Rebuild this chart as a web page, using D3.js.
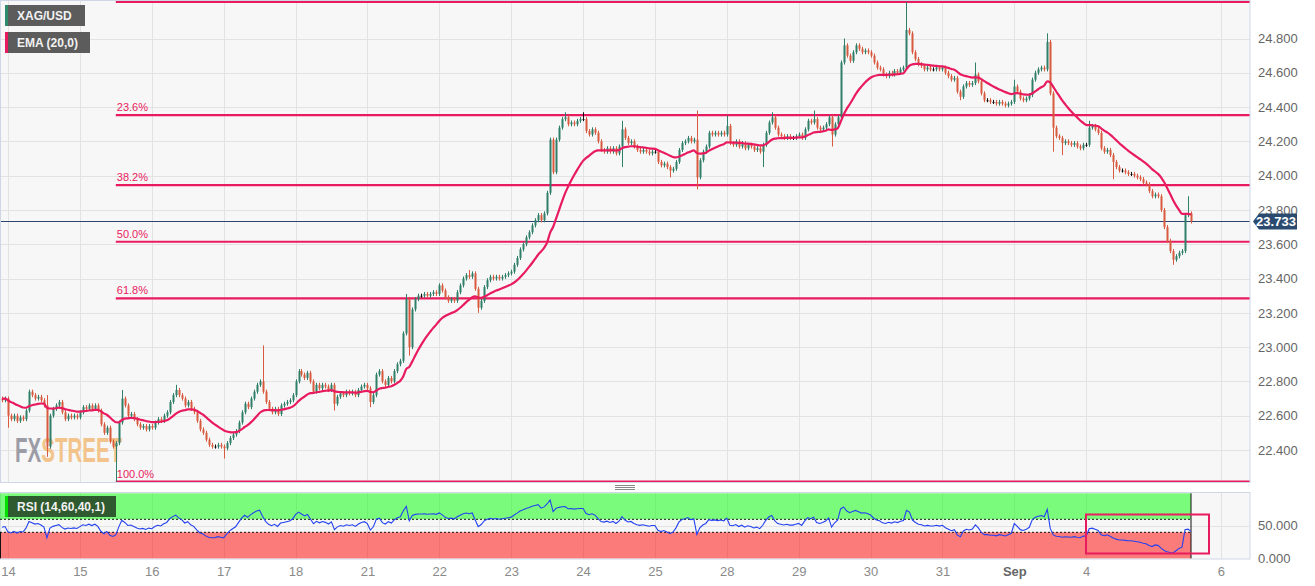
<!DOCTYPE html>
<html><head><meta charset="utf-8">
<script src="https://cdn.jsdelivr.net/npm/d3@7"></script>
<style>body{margin:0;background:#fff}svg{display:block}text{font-family:"Liberation Sans",Arial,sans-serif}</style>
</head><body><svg id="c" width="1315" height="586"></svg>
<script>
// ---- DATA (hourly closes XAG/USD) ----
const openStart = 22.70;
const closes = [
 22.69,22.70,
 // Aug 14
 22.60,22.58,22.60,22.57,22.59,22.58,22.63,22.74,22.72,22.70,22.71,22.69,22.66,22.42,22.60,22.64,22.66,22.68,22.62,22.58,22.60,22.59,22.60,22.59,
 // Aug 15
 22.62,22.65,22.64,22.66,22.64,22.66,22.63,22.55,22.50,22.53,22.45,22.42,22.44,22.56,22.70,22.66,22.60,22.61,22.58,22.55,22.53,22.54,22.52,22.54,
 // Aug 16
 22.53,22.56,22.58,22.57,22.60,22.62,22.68,22.72,22.75,22.72,22.70,22.66,22.68,22.64,22.62,22.57,22.52,22.50,22.46,22.43,22.42,22.42,22.43,22.42,
 // Aug 17
 22.41,22.44,22.47,22.49,22.51,22.56,22.62,22.67,22.65,22.70,22.74,22.78,22.80,22.74,22.68,22.64,22.62,22.64,22.61,22.66,22.67,22.68,22.69,22.72,
 // Aug 18
 22.80,22.86,22.84,22.82,22.85,22.80,22.74,22.78,22.76,22.78,22.77,22.75,22.78,22.67,22.71,22.73,22.72,22.74,22.73,22.74,22.72,22.75,22.77,22.78,
 // Aug 21
 22.76,22.68,22.72,22.84,22.86,22.80,22.78,22.82,22.80,22.86,22.90,22.92,23.08,23.28,23.00,23.22,23.28,23.30,23.30,23.31,23.30,23.31,23.32,23.31,
 // Aug 22
 23.36,23.33,23.29,23.27,23.28,23.27,23.32,23.36,23.40,23.42,23.41,23.43,23.34,23.23,23.27,23.35,23.39,23.41,23.40,23.41,23.40,23.41,23.42,23.43,
 // Aug 23
 23.44,23.48,23.52,23.57,23.60,23.64,23.67,23.71,23.74,23.77,23.74,23.78,23.90,24.21,24.02,24.21,24.28,24.33,24.34,24.30,24.31,24.30,24.32,24.33,
 // Aug 24
 24.33,24.26,24.24,24.27,24.25,24.20,24.15,24.14,24.16,24.14,24.16,24.13,24.17,24.27,24.22,24.19,24.20,24.17,24.15,24.14,24.15,24.14,24.13,24.14,
 // Aug 25
 24.14,24.08,24.06,24.07,24.05,24.03,24.04,24.08,24.15,24.19,24.20,24.22,24.20,24.21,23.99,24.09,24.14,24.17,24.25,24.24,24.25,24.24,24.25,24.24,
 // Aug 28
 24.29,24.19,24.18,24.20,24.17,24.19,24.16,24.18,24.17,24.15,24.16,24.14,24.18,24.25,24.31,24.34,24.28,24.24,24.23,24.22,24.23,24.22,24.22,24.23,
 // Aug 29
 24.24,24.22,24.27,24.32,24.31,24.33,24.28,24.27,24.28,24.30,24.34,24.24,24.30,24.34,24.66,24.76,24.70,24.67,24.72,24.76,24.74,24.72,24.73,24.72,
 // Aug 30
 24.70,24.66,24.63,24.62,24.59,24.58,24.60,24.59,24.61,24.60,24.62,24.63,24.85,24.83,24.72,24.68,24.65,24.64,24.62,24.63,24.62,24.62,24.63,24.62,
 // Aug 31
 24.63,24.60,24.58,24.56,24.57,24.49,24.46,24.52,24.54,24.53,24.54,24.59,24.55,24.48,24.44,24.44,24.43,24.43,24.42,24.43,24.42,24.41,24.42,24.43,
 // Sep 1
 24.52,24.49,24.45,24.44,24.45,24.47,24.56,24.60,24.62,24.63,24.62,24.78,24.48,24.28,24.23,24.22,24.19,24.20,24.19,24.18,24.19,24.17,24.16,24.18,
 // Sep 4
 24.18,24.28,24.29,24.27,24.25,24.16,24.14,24.15,24.12,24.08,24.05,24.03,24.03,24.02,24.01,24.01,24.00,23.99,23.98,23.96,23.95,
 // Sep 5
 23.91,23.88,23.89,23.88,23.80,23.70,23.62,23.56,23.51,23.53,23.55,23.56,23.77,23.78,23.733
];
// notable wick extremes [candle index, price]
const wickHighs = [[15,22.72],[40,22.75],[58,22.78],[87,23.01],[135,23.31],[156,23.45],[188,24.37],[194,24.37],[207,24.32],[232,24.38],[242,24.35],[257,24.37],[271,24.38],[281,24.80],[302,25.013],[325,24.66],[338,24.56],[349,24.83],[363,24.32],[396,23.88]];
const wickLows = [[2,22.53],[15,22.36],[38,22.216],[74,22.35],[111,22.63],[123,22.65],[136,22.95],[159,23.20],[207,24.05],[223,23.99],[232,23.92],[254,24.05],[277,24.17],[320,24.44],[351,24.14],[354,24.12],[371,23.98],[391,23.48]];
const wickPad = 0.012;
const emaSeed = 22.70;
const rsiSeed = [0.02, 0.021]; // avg gain, avg loss
const lastPrice = 23.733;
const fibHigh = 25.013, fibLow = 22.216, fibStartIndex = 38;
const fibRatios = [0, 0.236, 0.382, 0.5, 0.618, 1];
const fibLabels = ["", "23.6%", "38.2%", "50.0%", "61.8%", "100.0%"];
const yTicks = [22.4, 22.6, 22.8, 23.0, 23.2, 23.4, 23.6, 23.8, 24.0, 24.2, 24.4, 24.6, 24.8];
const rsiTicks = [0, 50];
const rsiUpper = 60, rsiLower = 40;
const xTickLabels = ["14","15","16","17","18","21","22","23","24","25","28","29","30","31","Sep","4","6"];
const xTickIndex = [2,26,50,74,98,122,146,170,194,218,242,266,290,314,338,362,407];

// ---- DERIVED ----
const N = closes.length;
const hiMap = new Map(wickHighs), loMap = new Map(wickLows);
const candles = closes.map((c, i) => {
  const o = i === 0 ? openStart : closes[i - 1];
  const h = hiMap.has(i) ? hiMap.get(i) : Math.max(o, c) + wickPad;
  const l = loMap.has(i) ? loMap.get(i) : Math.min(o, c) - wickPad;
  return {i, o, c, h, l};
});
const k = 2 / 21;
let e = emaSeed;
const ema = closes.map(c => (e = k * c + (1 - k) * e));
let ag = rsiSeed[0], al = rsiSeed[1];
const rsi = closes.map((c, i) => {
  const prev = i === 0 ? openStart : closes[i - 1];
  const d = c - prev;
  ag = (ag * 13 + Math.max(d, 0)) / 14;
  al = (al * 13 + Math.max(-d, 0)) / 14;
  return 100 - 100 / (1 + ag / al);
});

// ---- LAYOUT ----
const PL = 0, PR = 1250, PT = 0, PB = 482;
const RT = 493, RB = 559;
const svg = d3.select("#c");
const x = d3.scaleLinear().domain([0, N - 1]).range([2, 1191]);
const y = d3.scaleLinear().domain([22.4, 24.8]).range([450, 38.5]);
const yR = d3.scaleLinear().domain([0, 100]).range([558.3, 493.3]);
const lastX = x(N - 1);

svg.append("rect").attr("width", 1315).attr("height", 586).attr("fill", "#fff");
const defs = svg.append("defs");
defs.append("clipPath").attr("id", "mainClip").append("rect").attr("x", PL).attr("y", PT).attr("width", PR - PL).attr("height", PB - PT);
defs.append("clipPath").attr("id", "rsiClip").append("rect").attr("x", PL).attr("y", RT).attr("width", PR - PL).attr("height", RB - RT);

// backgrounds
svg.append("rect").attr("x", PL).attr("y", PT).attr("width", PR - PL).attr("height", PB - PT).attr("fill", "#f7f7f7");
svg.append("rect").attr("x", PL).attr("y", RT).attr("width", PR - PL).attr("height", RB - RT).attr("fill", "#f7f7f7");

// grid
const main = svg.append("g").attr("clip-path", "url(#mainClip)");
main.selectAll("line.hg").data(yTicks).join("line")
  .attr("x1", PL).attr("x2", PR).attr("y1", d => Math.round(y(d)) + 0.5).attr("y2", d => Math.round(y(d)) + 0.5)
  .attr("stroke", "#e3e3e3");
main.selectAll("line.vg").data(xTickIndex).join("line")
  .attr("x1", d => Math.round(x(d)) + 0.5).attr("x2", d => Math.round(x(d)) + 0.5).attr("y1", PT).attr("y2", PB)
  .attr("stroke", "#e3e3e3");

// watermark (single text element, horizontally condensed)
const wm = main.append("g").attr("transform", "translate(15,462) scale(0.57,1)")
  .append("text").attr("x", 0).attr("y", 0).attr("font-weight", "bold").attr("font-size", 36);
wm.append("tspan").attr("fill", "#9c9ca6").text("FX");
wm.append("tspan").attr("fill", "#f2c48c").text("STREET");

// fib lines
const fib = fibRatios.map((r, j) => ({p: fibHigh - r * (fibHigh - fibLow), label: fibLabels[j]}));
main.selectAll("line.fib").data(fib).join("line")
  .attr("x1", x(fibStartIndex)).attr("x2", PR).attr("y1", d => y(d.p)).attr("y2", d => y(d.p))
  .attr("stroke", "#e91b5f").attr("stroke-width", 2.2);
main.selectAll("text.fib").data(fib.filter(d => d.label)).join("text")
  .attr("x", x(fibStartIndex) + 1).attr("y", d => y(d.p) - 4)
  .attr("fill", "#e91b5f").attr("font-size", 11).text(d => d.label);

// last price line
main.append("line").attr("x1", PL).attr("x2", PR).attr("y1", Math.round(y(lastPrice)) + 0.5).attr("y2", Math.round(y(lastPrice)) + 0.5)
  .attr("stroke", "#2a4670").attr("stroke-width", 1);

// candles
const up = "#2f7f69", dn = "#d85a3f";
const cg = main.append("g");
cg.selectAll("line.w").data(candles).join("line")
  .attr("x1", d => Math.round(x(d.i)) + 0.5).attr("x2", d => Math.round(x(d.i)) + 0.5)
  .attr("y1", d => y(d.h)).attr("y2", d => y(d.l))
  .attr("stroke", d => Math.abs(d.c - d.o) < 0.004 ? "#111" : (d.c >= d.o ? up : dn)).attr("stroke-width", 1);
cg.selectAll("rect.b").data(candles).join("rect")
  .attr("x", d => Math.round(x(d.i)) - 0.5).attr("width", 2)
  .attr("y", d => y(Math.max(d.o, d.c))).attr("height", d => Math.max(1, Math.abs(y(d.o) - y(d.c))))
  .attr("fill", d => Math.abs(d.c - d.o) < 0.004 ? "#111" : (d.c >= d.o ? up : dn));

// EMA
main.append("path").datum(ema)
  .attr("d", d3.line().x((d, i) => x(i)).y(d => y(d)).curve(d3.curveMonotoneX))
  .attr("fill", "none").attr("stroke", "#e91b5f").attr("stroke-width", 2.2);

// borders
svg.append("rect").attr("x", 0.5).attr("y", 0.5).attr("width", PR - 0.5).attr("height", PB).attr("fill", "none").attr("stroke", "#cfd6e6");
svg.append("rect").attr("x", 0.5).attr("y", RT - 0.5).attr("width", PR - 0.5).attr("height", RB - RT + 0.5).attr("fill", "none").attr("stroke", "#cfd6e6");

// drag handle
[485, 487, 489].forEach(v => svg.append("line").attr("x1", 615).attr("x2", 635).attr("y1", v + 0.5).attr("y2", v + 0.5).attr("stroke", "#888"));

// ---- RSI panel ----
const rp = svg.append("g").attr("clip-path", "url(#rsiClip)");
rp.append("line").attr("x1", PL).attr("x2", PR).attr("y1", Math.round(yR(50)) + 0.5).attr("y2", Math.round(yR(50)) + 0.5).attr("stroke", "#e3e3e3");
rp.selectAll("line.vg").data(xTickIndex).join("line")
  .attr("x1", d => Math.round(x(d)) + 0.5).attr("x2", d => Math.round(x(d)) + 0.5).attr("y1", RT).attr("y2", RB)
  .attr("stroke", "#e3e3e3");
rp.append("rect").attr("x", PL).attr("width", lastX - PL).attr("y", yR(100)).attr("height", yR(rsiUpper) - yR(100))
  .attr("fill", "rgb(0,255,0)").attr("fill-opacity", 0.5);
rp.append("rect").attr("x", PL).attr("width", lastX - PL).attr("y", yR(rsiLower)).attr("height", yR(0) - yR(rsiLower))
  .attr("fill", "rgb(255,0,0)").attr("fill-opacity", 0.5);
[rsiUpper, rsiLower].forEach(v => rp.append("line").attr("x1", PL).attr("x2", lastX).attr("y1", yR(v)).attr("y2", yR(v))
  .attr("stroke", "#111").attr("stroke-dasharray", "2,2").attr("stroke-width", 1));
rp.append("line").attr("x1", lastX).attr("x2", lastX).attr("y1", yR(100)).attr("y2", yR(0)).attr("stroke", "#111");
rp.append("line").attr("x1", 0.5).attr("x2", 0.5).attr("y1", yR(rsiLower)).attr("y2", yR(0)).attr("stroke", "#111");
rp.append("path").datum(rsi)
  .attr("d", d3.line().x((d, i) => x(i)).y(d => yR(d)))
  .attr("fill", "none").attr("stroke", "#2342f0").attr("stroke-width", 1.1);

// annotation box
svg.append("rect").attr("x", 1086).attr("y", 514.5).attr("width", 123).attr("height", 39)
  .attr("fill", "none").attr("stroke", "#e91b5f").attr("stroke-width", 2);

// ---- axes ----
const ya = svg.append("g").attr("transform", `translate(${PR + 2},0)`)
  .call(d3.axisRight(y).tickValues(yTicks).tickSize(0).tickPadding(6).tickFormat(d3.format(".3f")));
ya.select(".domain").remove();
ya.selectAll("text").attr("fill", "#666").attr("font-size", 13).attr("font-family", '"Liberation Sans",Arial,sans-serif');
const yra = svg.append("g").attr("transform", `translate(${PR + 2},0)`)
  .call(d3.axisRight(yR).tickValues(rsiTicks).tickSize(0).tickPadding(6).tickFormat(d3.format(".3f")));
yra.select(".domain").remove();
yra.selectAll("text").attr("fill", "#666").attr("font-size", 13).attr("font-family", '"Liberation Sans",Arial,sans-serif');
const xa = svg.append("g").attr("transform", `translate(0,${RB})`)
  .call(d3.axisBottom(x).tickValues(xTickIndex).tickSize(0).tickPadding(8).tickFormat((d, j) => xTickLabels[j]));
xa.select(".domain").remove();
xa.selectAll("text").attr("font-size", 13).attr("font-family", '"Liberation Sans",Arial,sans-serif')
  .attr("font-weight", (d, j) => xTickLabels[j] === "Sep" ? "bold" : null)
  .attr("fill", (d, j) => xTickLabels[j] === "Sep" ? "#666" : "#8a8a8a");

// last price tag
const ly = y(lastPrice);
svg.append("path").attr("d", `M1253,${ly} L1259,${ly - 8} L1297,${ly - 8} L1297,${ly + 8} L1259,${ly + 8} Z`).attr("fill", "#2b4a70");
svg.append("text").attr("x", 1276).attr("y", ly + 4.5).attr("text-anchor", "middle").attr("fill", "#fff")
  .attr("font-size", 13).attr("font-weight", "bold").text(d3.format(".3f")(lastPrice));

// legend boxes
function tag(yTop, w, stripe, fill, label) {
  svg.append("rect").attr("x", 5).attr("y", yTop).attr("width", w).attr("height", 21).attr("fill", fill);
  svg.append("rect").attr("x", 5).attr("y", yTop).attr("width", 3).attr("height", 21).attr("fill", stripe);
  svg.append("text").attr("x", 17).attr("y", yTop + 15).attr("fill", "#f2f2f2").attr("font-size", 12).attr("font-weight", "bold").text(label);
}
tag(5, 80, "#2e8a6c", "#5c5c5c", "XAG/USD");
tag(32, 85, "#e91b5f", "#5c5c5c", "EMA (20,0)");
tag(496, 111, "#00e000", "#2f5a2f", "RSI (14,60,40,1)");
</script></body></html>
